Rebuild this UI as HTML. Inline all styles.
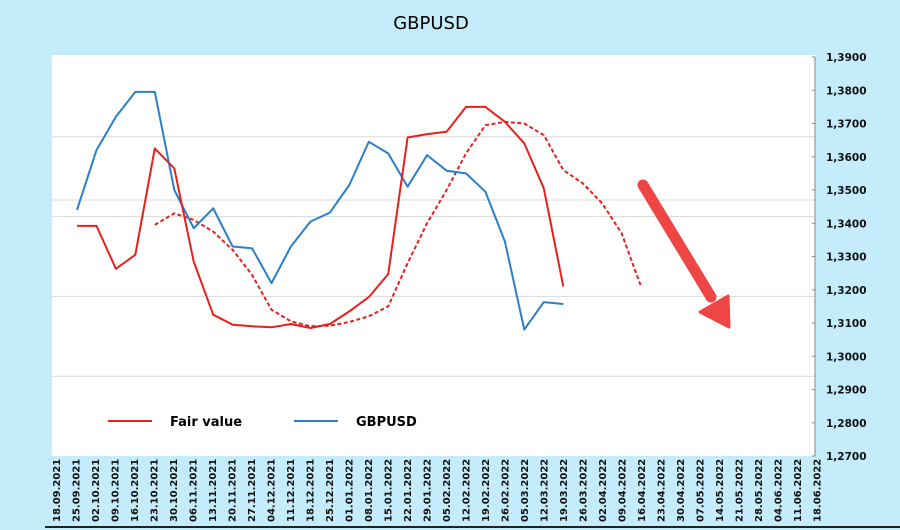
<!DOCTYPE html>
<html><head><meta charset="utf-8"><style>
body{margin:0;background:#c5ecfb;}
svg{display:block;font-family:"DejaVu Sans","Liberation Sans",sans-serif;}
</style></head><body>
<svg id="c" width="900" height="530">
<rect x="0" y="0" width="900" height="530" fill="#c5ecfb"/>
<rect x="52" y="55" width="763" height="401" fill="#ffffff"/>
<text x="431" y="29" font-size="18" text-anchor="middle" fill="#000">GBPUSD</text>
<g id="grid"></g><g id="series"></g><g id="axes"></g>
<g>
<line x1="108" y1="421" x2="152" y2="421" stroke="#e8201c" stroke-width="2"/>
<text x="170" y="426" font-size="13" font-weight="bold" fill="#000">Fair value</text>
<line x1="294" y1="421" x2="338" y2="421" stroke="#2a7fc8" stroke-width="2"/>
<text x="356" y="426" font-size="13" font-weight="bold" fill="#000">GBPUSD</text>
</g>
<g>
<line x1="643" y1="185" x2="711" y2="297" stroke="#f04545" stroke-width="11" stroke-linecap="round"/>
<polygon points="700,312 728,296 729,327" fill="#f04545" stroke="#f04545" stroke-width="3" stroke-linejoin="round"/>
</g>
</svg>
<script>
const dates=["18.09.2021","25.09.2021","02.10.2021","09.10.2021","16.10.2021","23.10.2021","30.10.2021","06.11.2021","13.11.2021","20.11.2021","27.11.2021","04.12.2021","11.12.2021","18.12.2021","25.12.2021","01.01.2022","08.01.2022","15.01.2022","22.01.2022","29.01.2022","05.02.2022","12.02.2022","19.02.2022","26.02.2022","05.03.2022","12.03.2022","19.03.2022","26.03.2022","02.04.2022","09.04.2022","16.04.2022","23.04.2022","30.04.2022","07.05.2022","14.05.2022","21.05.2022","28.05.2022","04.06.2022","11.06.2022","18.06.2022"];
const fairValue=[1.3392,1.3392,1.3263,1.3305,1.3625,1.3565,1.3285,1.3125,1.3095,1.3090,1.3087,1.3097,1.3085,1.3097,1.3135,1.3178,1.3247,1.3658,1.3668,1.3675,1.3750,1.3750,1.3705,1.3640,1.3505,1.3210];
const gbpusd=[1.3440,1.3620,1.3720,1.3795,1.3795,1.3500,1.3385,1.3445,1.3330,1.3325,1.3220,1.3330,1.3405,1.3432,1.3515,1.3645,1.3610,1.3510,1.3605,1.3558,1.3550,1.3495,1.3345,1.3080,1.3163,1.3157];
const fairDashStart=4;
const fairDashed=[1.3395,1.3430,1.3410,1.3375,1.3320,1.3245,1.3140,1.3105,1.3090,1.3092,1.3103,1.3120,1.3150,1.3280,1.3400,1.3500,1.3610,1.3695,1.3705,1.3700,1.3665,1.3560,1.3520,1.3460,1.3370,1.3210];
const yTicks=[1.39,1.38,1.37,1.36,1.35,1.34,1.33,1.32,1.31,1.30,1.29,1.28,1.27];
const gridVals=[1.3660,1.3470,1.3420,1.3180,1.2940];
const NS="http://www.w3.org/2000/svg";
const y=v=>57+(1.39-v)*3325;
const xp=i=>77+i*19.45;
const xl=i=>56+i*19.5;
function mk(t,a,p){const e=document.createElementNS(NS,t);for(const k in a)e.setAttribute(k,a[k]);p.appendChild(e);return e;}
const grid=document.getElementById('grid'),axes=document.getElementById('axes'),ser=document.getElementById('series');
gridVals.forEach(v=>{const l=mk('line',{x1:52,x2:815,y1:y(v),y2:y(v),stroke:'#d9d9d9','stroke-width':1},grid);

});
const ax=mk('line',{x1:815,x2:815,y1:y(1.39),y2:y(1.27),stroke:'#888','stroke-width':1},axes);


yTicks.forEach(v=>{mk('line',{x1:812,x2:815,y1:y(v),y2:y(v),stroke:'#888'},axes);
const t=mk('text',{x:826,y:y(v)+4,'font-size':10.5,'font-weight':'bold',fill:'#111'},axes);t.textContent=v.toFixed(4).replace('.',',');

});
const bx=mk('line',{x1:45,x2:900,y1:527,y2:527,stroke:'#222','stroke-width':2},axes);


dates.forEach((d,i)=>{const t=mk('text',{x:0,y:0,'font-size':10,'font-weight':'bold',fill:'#111',transform:`translate(${xl(i)+4},522) rotate(-90)`},axes);t.textContent=d;

});
function line(vals,off,stroke,dash,name){const pts=vals.map((v,i)=>xp(i+off).toFixed(1)+','+y(v).toFixed(1)).join(' ');
const a={points:pts,fill:'none',stroke:stroke,'stroke-width':2,'stroke-linejoin':'round'};if(dash)a['stroke-dasharray']=dash;
const p=mk('polyline',a,ser);

}
line(fairDashed,fairDashStart,'#e8201c','4,2.5','fair-value-forecast-line');
line(gbpusd,0,'#2a7fc8',null,'gbpusd-line');
line(fairValue,0,'#e8201c',null,'fair-value-line');
</script>
</body></html>
